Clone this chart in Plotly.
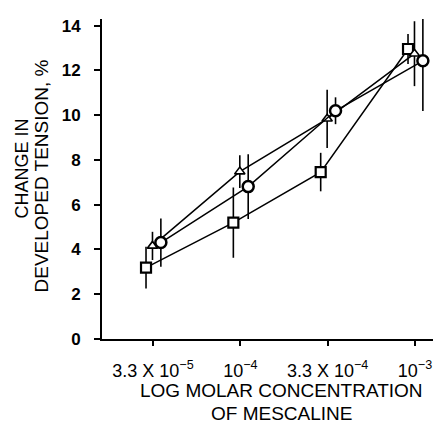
import plotly.graph_objects as go

# ---- data ----
concentrations = ["3.3 X 10<sup>−5</sup>", "10<sup>−4</sup>", "3.3 X 10<sup>−4</sup>", "10<sup>−3</sup>"]
positions = [0, 1, 2, 3]

squares_y = [3.19, 5.2, 7.46, 12.96]
squares_err = [0.93, 1.57, 0.86, 0.67]

triangles_y = [4.16, 7.48, 9.84, 12.75]
triangles_err = [0.63, 0.73, 1.3, 1.45]

circles_y = [4.31, 6.81, 10.2, 12.43]
circles_err = [1.08, 1.45, 0.6, 2.24]

# horizontal jitter used in the original to separate overlapping symbols (style)
offsets = {"square": -0.08, "triangle-up": -0.006, "circle": 0.09}

FONT = "Liberation Sans, Arial, sans-serif"

fig = go.Figure()

def add_series(ys, errs, symbol, size, lw):
    xs = [p + offsets[symbol] for p in positions]
    fig.add_trace(go.Scatter(
        x=xs, y=ys, mode="lines+markers",
        line=dict(color="black", width=1.5),
        marker=dict(symbol=symbol, size=size, color="white",
                    line=dict(color="black", width=lw)),
        error_y=dict(type="data", array=errs, visible=True,
                     color="black", thickness=1.6, width=0),
        showlegend=False, cliponaxis=False,
    ))

add_series(squares_y, squares_err, "square", 10, 2.2)
add_series(triangles_y, triangles_err, "triangle-up", 9, 1.6)
add_series(circles_y, circles_err, "circle", 11, 2.5)

fig.update_layout(
    width=433, height=423,
    margin=dict(l=102, r=0, t=19, b=84),
    paper_bgcolor="white", plot_bgcolor="white",
    font=dict(family=FONT, color="black", size=18),
    xaxis=dict(
        range=[-0.584, 3.206], tickvals=positions, ticktext=concentrations,
        showline=True, linecolor="black", linewidth=2,
        ticks="outside", ticklen=5, tickwidth=2, tickcolor="black",
        showgrid=False, zeroline=False,
        tickfont=dict(size=18, family=FONT, color="black"),
        ticklabelstandoff=9,
        ticklabeloverflow="allow",
    ),
    yaxis=dict(
        range=[0, 14.3], tickvals=[0, 2, 4, 6, 8, 10, 12, 14],
        showline=True, linecolor="black", linewidth=2,
        ticks="outside", ticklen=6, tickwidth=2, tickcolor="black",
        showgrid=False, zeroline=False,
        tickfont=dict(size=17, family=FONT, color="black", weight="bold"),
        ticklabelstandoff=10,
    ),
)

annots = [
    dict(text="LOG MOLAR CONCENTRATION", xshift=179, yshift=-51, size=19, angle=0),
    dict(text="OF MESCALINE", xshift=179, yshift=-74, size=19, angle=0),
    dict(text="CHANGE IN", xshift=-80.5, yshift=339 - 169 - 320, size=18, angle=-90),
    dict(text="DEVELOPED TENSION, %", xshift=-61.5, yshift=339 - 176 - 320, size=19, angle=-90),
]
for a in annots:
    fig.add_annotation(
        text=a["text"], xref="paper", yref="paper", x=0, y=(1 if a["angle"] else 0),
        xanchor="center", yanchor="middle", xshift=a["xshift"], yshift=a["yshift"],
        textangle=a["angle"], showarrow=False,
        font=dict(size=a["size"], family=FONT, color="black"),
    )

fig.write_html("out.html")
